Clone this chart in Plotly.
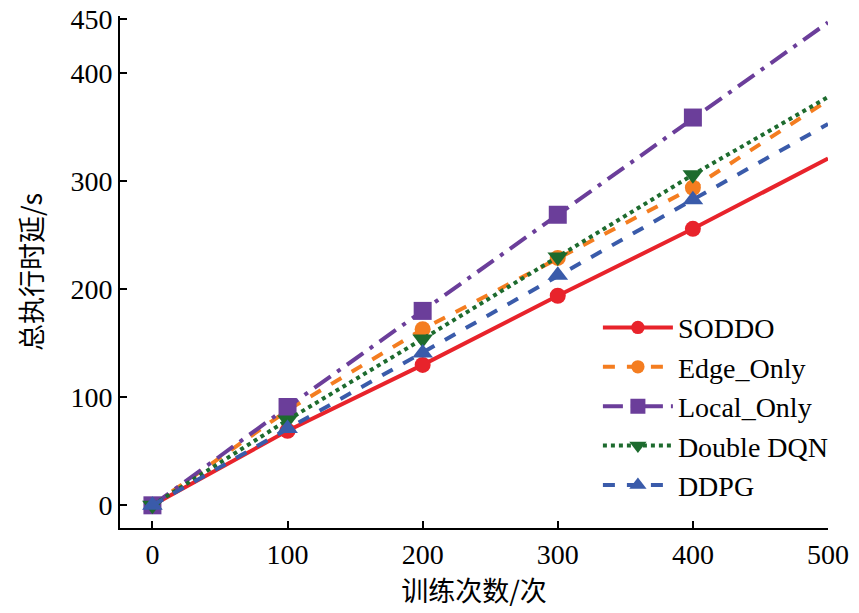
import plotly.graph_objects as go

# données
episodes = [0, 100, 200, 300, 400, 500]
soddo = [0, 69, 130, 194, 256, 321]
edge_only = [0, 88, 163, 229, 294, 375]
local_only = [0, 91, 180, 269, 359, 447]
double_dqn = [0, 79, 154, 230, 306, 378]
ddpg = [0, 71, 141, 213, 283, 353]

series = [
    ("SODDO", soddo, "#E8232B", "solid", "circle", 16),
    ("Edge_Only", edge_only, "#F47D20", "dash", "circle", 16),
    ("Local_Only", local_only, "#6B3E9A", "longdashdot", "square", 18),
    ("Double DQN", double_dqn, "#1D6B2E", "dot", "triangle-down", 18),
    ("DDPG", ddpg, "#3A5BAA", "dash", "triangle-up", 18),
]

fig = go.Figure()
for name, vals, color, dash, symbol, size in series:
    # pas de marqueur au dernier point (500)
    sizes = [size] * (len(episodes) - 1) + [0]
    fig.add_trace(go.Scatter(
        x=episodes, y=vals, name=name, mode="lines+markers",
        line=dict(color=color, width=4, dash=dash),
        marker=dict(symbol=symbol, size=sizes, color=color, opacity=1,
                    line=dict(width=0)),
    ))

serif = dict(family="Liberation Serif, Times New Roman, serif", size=28, color="black")
cjk = dict(family="Noto Sans CJK SC", size=27, color="black")

fig.update_layout(
    width=859, height=613,
    margin=dict(l=120, r=31, t=16, b=85, autoexpand=False),
    paper_bgcolor="white", plot_bgcolor="white",
    font=serif,
    showlegend=True,
    legend=dict(
        x=0.675, y=0.44, xanchor="left", yanchor="top",
        bgcolor="rgba(0,0,0,0)", font=serif,
        tracegroupgap=0, itemwidth=70,
    ),
    xaxis=dict(
        range=[-24, 500], tickvals=[0, 100, 200, 300, 400, 500],
        showline=True, linecolor="black", linewidth=2,
        ticks="inside", ticklen=7, tickwidth=2, tickcolor="black",
        showgrid=False, zeroline=False, automargin=False,
        title=dict(text="训练次数/次", font=cjk, standoff=10),
        tickfont=serif,
    ),
    yaxis=dict(
        range=[-21, 453], tickvals=[0, 100, 200, 300, 400, 450],
        showline=True, linecolor="black", linewidth=2,
        ticks="inside", ticklen=7, tickwidth=2, tickcolor="black",
        showgrid=False, zeroline=False, automargin=False,
        title=dict(text="总执行时延/s", font=cjk, standoff=20),
        tickfont=serif,
    ),
)

# enlever la marge du body pour que la figure commence en (0, 0)
fig.write_html("out.html", config={"displayModeBar": False},
               post_script="document.body.style.margin='0px';")
